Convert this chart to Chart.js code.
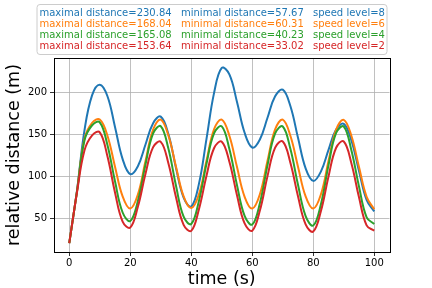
<!DOCTYPE html>
<html>
<head>
<meta charset="utf-8">
<script src="https://cdn.jsdelivr.net/npm/chart.js@4/dist/chart.umd.min.js"></script>
<style>
  body { margin: 0; background: #fff; }
  #wrap { width: 432px; height: 288px; }
</style>
</head>
<body>
<div id="wrap"><canvas id="distChart" width="432" height="288"></canvas></div>
<script>
// time samples (s), every 2.5 s
const times = [0, 2.5, 5, 7.5, 10, 12.5, 15, 17.5, 20, 22.5, 25, 27.5, 30, 32.5, 35, 37.5, 40,
  42.5, 45, 47.5, 50, 52.5, 55, 57.5, 60, 62.5, 65, 67.5, 70, 72.5, 75, 77.5, 80,
  82.5, 85, 87.5, 90, 92.5, 95, 97.5, 100];

// relative distance (m)
const level8 = [20, 82, 155, 197, 209.5, 196, 159, 120.5, 102.6, 112, 138, 163.5, 171.3, 150.5, 110, 74.5, 64,
  90.6, 144.7, 200, 229.6, 221.8, 188.8, 152, 134.4, 144, 170, 195.6, 203.5, 184, 146, 109.4, 94.5,
  105.6, 131.6, 155.8, 162.7, 143, 106.4, 71.7, 58];
const level6 = [20, 81, 145, 164, 167.8, 148.8, 111.5, 75.9, 61.4, 78.2, 118.2, 155.9, 167.8, 148.8, 111.5, 75.9, 62,
  78.2, 118.5, 156.5, 167.8, 148.5, 111, 75.5, 61.4, 78.5, 118.5, 156, 167.8, 148.5, 111.5, 75.9, 61.4,
  78.2, 118.2, 155.9, 167.5, 148.5, 111, 75.5, 60.5];
const level4 = [20, 81, 143, 161, 164.5, 137.8, 94, 56.7, 46.6, 70.5, 114.2, 151.2, 159.8, 133.1, 88.6, 51.7, 43,
  70.3, 115.1, 151.6, 159.6, 132.6, 89.4, 52.6, 42.3, 67.7, 113.3, 151.2, 159.6, 132.8, 89.8, 52.5, 41.1,
  66.3, 113.2, 151.8, 159.5, 131.2, 87.7, 51, 43];
const level2 = [20, 80, 131, 149, 152.5, 124.2, 80.7, 45.9, 38.7, 63.5, 103, 134.8, 141.2, 115.6, 74.9, 42, 34.8,
  60.4, 100.7, 133.8, 141.4, 117.5, 77.4, 43.6, 35, 59, 100.2, 134.2, 141.6, 116.3, 76.1, 42.6, 34,
  58.2, 99.8, 134.1, 141.6, 115.7, 74.9, 41.3, 35];

const speedLevels = [8, 6, 4, 2];
const maxDist = ['230.84', '168.04', '165.08', '153.64'];
const minDist = ['57.67', '60.31', '40.23', '33.02'];
const colors = ['#1f77b4', '#ff7f0e', '#2ca02c', '#d62728'];

const xTicks = [0, 20, 40, 60, 80, 100];
const yTicks = [50, 100, 150, 200];

const series = [level8, level6, level4, level2];
const FONT = "'DejaVu Sans', sans-serif";

// box round the plot and the text key above it
const frameAndKey = {
  id: 'frameAndKey',
  afterDatasetsDraw(chart) {
    const a = chart.chartArea, c = chart.ctx;
    c.save();
    c.strokeStyle = '#000';
    c.lineWidth = 1;
    c.strokeRect(Math.round(a.left) + 0.5, Math.round(a.top) + 0.5,
      Math.round(a.right - a.left), Math.round(a.bottom - a.top));
    c.restore();
  },
  afterDraw(chart) {
    const c = chart.ctx;
    c.save();
    c.beginPath();
    c.roundRect(37, 4.5, 350, 50, 3);
    c.fillStyle = 'rgba(255,255,255,0.8)';
    c.fill();
    c.strokeStyle = '#cccccc';
    c.lineWidth = 1;
    c.stroke();
    c.font = '10px ' + FONT;
    c.textBaseline = 'middle';
    c.textAlign = 'left';
    speedLevels.forEach((lvl, i) => {
      const y = 13 + i * 11.1;
      c.fillStyle = colors[i];
      c.fillText('maximal distance=' + maxDist[i], 39.5, y);
      c.fillText('minimal distance=' + minDist[i], 181, y);
      c.fillText('speed level=' + lvl, 313, y);
    });
    c.restore();
  }
};

Chart.defaults.color = '#000';
Chart.defaults.font.family = FONT;

new Chart(document.getElementById('distChart'), {
  type: 'line',
  data: {
    datasets: series.map((vals, i) => ({
      label: 'speed level=' + speedLevels[i],
      data: times.map((t, k) => ({ x: t, y: vals[k] })),
      borderColor: colors[i],
      borderWidth: 2,
      pointRadius: 0,
      tension: 0.4,
      fill: false,
      order: 4 - i
    }))
  },
  options: {
    responsive: false,
    animation: false,
    layout: { padding: { top: 58, right: 42.5, left: 0, bottom: 0 } },
    plugins: { legend: { display: false }, tooltip: { enabled: false } },
    scales: {
      x: {
        type: 'linear',
        min: -5,
        max: 105,
        afterBuildTicks: s => { s.ticks = xTicks.map(v => ({ value: v })); },
        afterFit: s => { s.height = 36; },
        ticks: { font: { size: 10 }, padding: 1, maxRotation: 0 },
        grid: { color: '#b0b0b0', lineWidth: 0.8, tickLength: 4, tickColor: '#000' },
        border: { display: true, color: '#000', width: 1 },
        title: { display: true, text: 'time (s)', font: { size: 17.5, lineHeight: 1 }, padding: { top: 0, bottom: 0 } }
      },
      y: {
        min: 9.5,
        max: 241.4,
        afterBuildTicks: s => { s.ticks = yTicks.map(v => ({ value: v })); },
        afterFit: s => { s.width = 54; },
        ticks: { font: { size: 10 }, padding: 3 },
        grid: { color: '#b0b0b0', lineWidth: 0.8, tickLength: 4, tickColor: '#000' },
        border: { display: true, color: '#000', width: 1 },
        title: { display: true, text: 'relative distance (m)', font: { size: 17.5, lineHeight: 1 }, padding: { top: 6, bottom: 0 } }
      }
    }
  },
  plugins: [frameAndKey]
});
</script>
</body>
</html>
